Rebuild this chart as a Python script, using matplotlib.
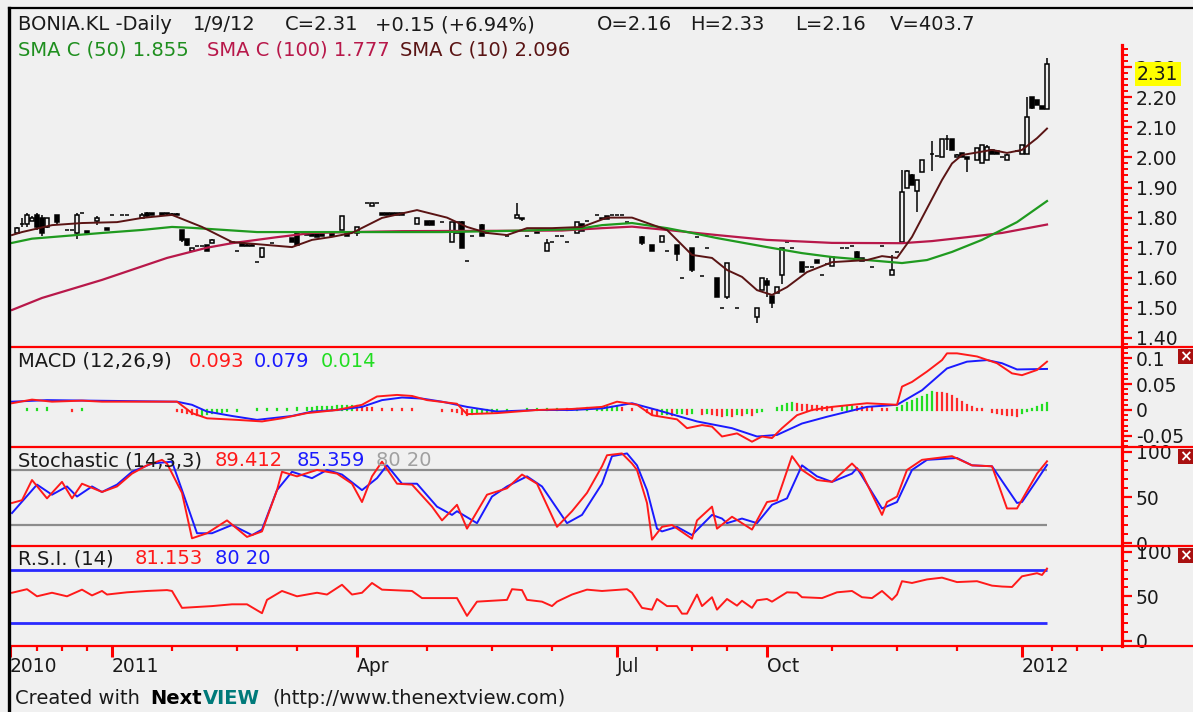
import numpy as np
import matplotlib.pyplot as plt
from matplotlib.lines import Line2D
from matplotlib.patches import Rectangle
from matplotlib.ticker import FixedLocator

plt.rcParams['font.family'] = ['DejaVu Sans']

W, H = 1193, 712
BG = '#f0f0f0'
FS = 14

# ---- daily bars (bar index, open, high, low, close) ----
bar_idx = [1, 2, 3, 4, 5, 6, 7, 9, 11, 12,
           13, 14, 15, 17, 19, 20, 22, 23, 26, 27,
           28, 30, 31, 32, 33, 34, 35, 36, 37, 38,
           39, 40, 44, 45, 46, 47, 48, 49, 50, 52,
           56, 57, 59, 60, 61, 62, 64, 66, 67, 69,
           71, 72, 73, 74, 75, 76, 77, 78, 81, 83,
           84, 86, 88, 89, 90, 91, 92, 94, 95, 99,
           101, 102, 103, 105, 107, 108, 109, 110, 111, 113,
           114, 115, 117, 118, 119, 120, 121, 122, 123, 126,
           128, 130, 131, 133, 134, 136, 137, 138, 139, 141,
           142, 143, 145, 149, 150, 151, 152, 153, 154, 155,
           156, 158, 159, 160, 161, 162, 163, 164, 166, 167,
           168, 169, 170, 172, 174, 176, 177, 178, 179, 180,
           181, 182, 184, 185, 186, 187, 188, 189, 190, 191,
           193, 194, 195, 196, 197, 198, 199, 201, 202, 203,
           204, 205, 206, 207]
bar_open = [1.75, 1.78, 1.78, 1.79, 1.81, 1.80, 1.77, 1.81, 1.76, 1.76,
            1.75, 1.815, 1.755, 1.79, 1.765, 1.81, 1.81, 1.81, 1.80, 1.815,
            1.815, 1.815, 1.815, 1.812, 1.812, 1.76, 1.73, 1.69, 1.705, 1.705,
            1.71, 1.716, 1.72, 1.69, 1.715, 1.71, 1.71, 1.652, 1.67, 1.715,
            1.732, 1.75, 1.752, 1.748, 1.745, 1.745, 1.75, 1.76, 1.745, 1.75,
            1.848, 1.84, 1.848, 1.815, 1.815, 1.815, 1.815, 1.815, 1.78, 1.79,
            1.79, 1.785, 1.72, 1.75, 1.785, 1.655, 1.74, 1.775, 1.75, 1.74,
            1.80, 1.795, 1.74, 1.752, 1.69, 1.72, 1.74, 1.74, 1.72, 1.75,
            1.78, 1.79, 1.81, 1.795, 1.805, 1.81, 1.81, 1.81, 1.785, 1.735,
            1.71, 1.72, 1.69, 1.71, 1.60, 1.70, 1.735, 1.605, 1.70, 1.60,
            1.50, 1.535, 1.50, 1.47, 1.56, 1.59, 1.54, 1.55, 1.61, 1.72,
            1.70, 1.652, 1.636, 1.635, 1.66, 1.61, 1.645, 1.64, 1.70, 1.70,
            1.705, 1.685, 1.665, 1.635, 1.705, 1.61, 1.685, 1.72, 1.90, 1.94,
            1.89, 1.95, 2.01, 2.005, 2.00, 2.06, 2.06, 2.00, 2.015, 2.00,
            1.99, 1.98, 1.99, 2.025, 2.022, 2.00, 1.99, 2.02, 2.01, 2.01,
            2.20, 2.19, 2.17, 2.16]
bar_high = [1.77, 1.80, 1.815, 1.805, 1.815, 1.81, 1.80, 1.81, 1.76, 1.76,
            1.815, 1.815, 1.755, 1.805, 1.767, 1.81, 1.81, 1.81, 1.815, 1.82,
            1.815, 1.815, 1.815, 1.815, 1.815, 1.76, 1.73, 1.70, 1.705, 1.705,
            1.71, 1.728, 1.722, 1.69, 1.715, 1.712, 1.712, 1.652, 1.70, 1.715,
            1.732, 1.752, 1.752, 1.75, 1.745, 1.745, 1.75, 1.805, 1.745, 1.77,
            1.848, 1.85, 1.848, 1.815, 1.815, 1.815, 1.815, 1.815, 1.80, 1.79,
            1.79, 1.785, 1.785, 1.785, 1.79, 1.655, 1.74, 1.78, 1.75, 1.74,
            1.85, 1.80, 1.74, 1.752, 1.73, 1.72, 1.74, 1.74, 1.72, 1.785,
            1.78, 1.79, 1.81, 1.80, 1.805, 1.81, 1.81, 1.81, 1.785, 1.74,
            1.71, 1.74, 1.69, 1.71, 1.60, 1.70, 1.735, 1.605, 1.70, 1.60,
            1.50, 1.65, 1.50, 1.50, 1.60, 1.60, 1.54, 1.57, 1.70, 1.72,
            1.70, 1.652, 1.636, 1.635, 1.66, 1.61, 1.645, 1.67, 1.70, 1.70,
            1.705, 1.69, 1.665, 1.635, 1.705, 1.675, 1.685, 1.958, 1.958, 1.945,
            1.925, 1.99, 2.055, 2.005, 2.06, 2.075, 2.06, 2.01, 2.015, 2.00,
            2.03, 2.04, 2.04, 2.025, 2.022, 2.00, 2.01, 2.02, 2.04, 2.20,
            2.20, 2.19, 2.17, 2.33]
bar_low = [1.75, 1.77, 1.77, 1.79, 1.76, 1.74, 1.765, 1.78, 1.76, 1.76,
           1.73, 1.815, 1.745, 1.775, 1.758, 1.81, 1.81, 1.81, 1.80, 1.80,
           1.81, 1.81, 1.81, 1.81, 1.808, 1.72, 1.705, 1.69, 1.705, 1.705,
           1.69, 1.716, 1.715, 1.69, 1.705, 1.705, 1.705, 1.652, 1.665, 1.715,
           1.72, 1.705, 1.742, 1.738, 1.735, 1.738, 1.738, 1.76, 1.74, 1.74,
           1.848, 1.84, 1.848, 1.808, 1.808, 1.808, 1.808, 1.808, 1.78, 1.775,
           1.775, 1.785, 1.72, 1.75, 1.70, 1.655, 1.74, 1.74, 1.75, 1.74,
           1.80, 1.79, 1.74, 1.748, 1.69, 1.72, 1.74, 1.74, 1.72, 1.75,
           1.755, 1.79, 1.81, 1.795, 1.795, 1.81, 1.81, 1.81, 1.785, 1.71,
           1.69, 1.72, 1.69, 1.655, 1.60, 1.62, 1.735, 1.605, 1.70, 1.535,
           1.50, 1.53, 1.50, 1.45, 1.56, 1.535, 1.50, 1.55, 1.58, 1.72,
           1.70, 1.62, 1.636, 1.635, 1.65, 1.61, 1.645, 1.64, 1.70, 1.70,
           1.705, 1.66, 1.655, 1.635, 1.705, 1.61, 1.685, 1.72, 1.90, 1.91,
           1.82, 1.95, 1.955, 2.005, 2.00, 2.025, 2.025, 2.00, 2.00, 1.95,
           1.99, 1.98, 1.99, 2.01, 2.012, 2.00, 1.99, 2.02, 2.01, 2.01,
           2.16, 2.175, 2.16, 2.16]
bar_close = [1.765, 1.78, 1.81, 1.80, 1.77, 1.75, 1.80, 1.785, 1.76, 1.76,
             1.81, 1.815, 1.748, 1.80, 1.76, 1.81, 1.81, 1.81, 1.81, 1.805,
             1.81, 1.81, 1.812, 1.81, 1.81, 1.725, 1.71, 1.70, 1.705, 1.705,
             1.69, 1.726, 1.715, 1.69, 1.705, 1.705, 1.706, 1.652, 1.70, 1.715,
             1.72, 1.71, 1.742, 1.738, 1.735, 1.738, 1.738, 1.805, 1.74, 1.77,
             1.848, 1.848, 1.848, 1.808, 1.808, 1.808, 1.81, 1.808, 1.80, 1.775,
             1.775, 1.785, 1.785, 1.785, 1.70, 1.655, 1.74, 1.74, 1.75, 1.74,
             1.81, 1.80, 1.74, 1.748, 1.715, 1.72, 1.74, 1.74, 1.72, 1.785,
             1.755, 1.79, 1.81, 1.80, 1.795, 1.81, 1.81, 1.81, 1.785, 1.715,
             1.69, 1.74, 1.69, 1.68, 1.60, 1.625, 1.735, 1.605, 1.70, 1.535,
             1.50, 1.65, 1.50, 1.50, 1.60, 1.575, 1.515, 1.57, 1.70, 1.72,
             1.70, 1.62, 1.636, 1.635, 1.65, 1.61, 1.645, 1.67, 1.70, 1.70,
             1.705, 1.66, 1.655, 1.635, 1.705, 1.625, 1.685, 1.885, 1.955, 1.91,
             1.925, 1.99, 2.012, 2.005, 2.06, 2.06, 2.025, 2.008, 2.00, 1.995,
             2.03, 2.04, 2.035, 2.01, 2.012, 2.00, 2.008, 2.02, 2.04, 2.135,
             2.165, 2.175, 2.16, 2.31]

# ---- moving averages ----
sma100_idx = [0, 6, 18, 31, 39, 44, 53, 60, 68, 78, 110, 118, 124, 131, 141, 151,
              164, 178, 184, 191, 198, 207]
sma100_val = [1.493, 1.533, 1.593, 1.666, 1.70, 1.715, 1.735, 1.749, 1.752, 1.755,
              1.757, 1.765, 1.77, 1.759, 1.742, 1.726, 1.716, 1.715, 1.722, 1.735,
              1.749, 1.777]
sma50_idx = [0, 4, 18, 26, 32, 36, 49, 64, 86, 100, 113, 118, 124, 131, 136, 141,
             151, 158, 164, 171, 178, 183, 188, 194, 201, 207]
sma50_val = [1.716, 1.73, 1.749, 1.759, 1.769, 1.766, 1.752, 1.752, 1.752, 1.756,
             1.762, 1.775, 1.782, 1.765, 1.749, 1.732, 1.702, 1.682, 1.669, 1.659,
             1.649, 1.659, 1.686, 1.726, 1.785, 1.855]
sma10_idx = [0, 2, 8, 14, 21, 26, 32, 38, 44, 51, 56, 60, 64, 68, 74, 81, 87, 91,
             95, 99, 103, 108, 114, 119, 124, 131, 136, 140, 143, 146, 149, 152,
             155, 159, 164, 171, 174, 177, 180, 186, 188, 190, 196, 199, 202, 205, 207]
sma10_val = [1.742, 1.752, 1.775, 1.782, 1.785, 1.799, 1.809, 1.769, 1.719, 1.709,
             1.702, 1.726, 1.736, 1.749, 1.799, 1.825, 1.80, 1.769, 1.749, 1.742,
             1.765, 1.765, 1.769, 1.80, 1.80, 1.759, 1.676, 1.666, 1.626, 1.603,
             1.559, 1.543, 1.569, 1.619, 1.652, 1.659, 1.672, 1.666, 1.736, 1.925,
             1.98, 2.008, 2.025, 2.015, 2.025, 2.064, 2.096]

# ---- MACD (12,26,9) ----
macd_idx = [0, 4, 8, 14, 18, 33, 36, 39, 45, 50, 54, 59, 65, 70, 73, 77, 80, 83,
            89, 91, 97, 105, 112, 118, 121, 125, 128, 133, 135, 138, 140, 142, 145,
            148, 150, 152, 154, 157, 160, 164, 171, 177, 178, 180, 183, 186, 187,
            189, 193, 197, 200, 202, 205, 207]
macd_val = [0.013, 0.020, 0.016, 0.018, 0.016, 0.016, -0.006, -0.016, -0.019, -0.022,
            -0.016, -0.006, 0.0, 0.010, 0.026, 0.029, 0.027, 0.019, 0.012, -0.008,
            -0.006, 0.0, 0.002, 0.006, 0.016, 0.010, -0.010, -0.018, -0.035, -0.029,
            -0.032, -0.051, -0.045, -0.061, -0.051, -0.054, -0.035, -0.010, 0.0, 0.006,
            0.013, 0.010, 0.045, 0.054, 0.074, 0.096, 0.109, 0.109, 0.103, 0.090,
            0.0705, 0.067, 0.077, 0.093]
signal_idx = [0, 7, 33, 36, 39, 44, 49, 56, 60, 65, 70, 74, 78, 82, 86, 91, 97, 105,
              112, 118, 124, 129, 137, 144, 149, 153, 158, 163, 171, 177, 182, 187,
              191, 195, 198, 201, 207]
signal_val = [0.016, 0.019, 0.016, 0.010, -0.003, -0.0115, -0.019, -0.0115, -0.003, 0.0,
              0.006, 0.019, 0.024, 0.022, 0.016, 0.006, -0.003, 0.0, 0.0, 0.003,
              0.013, 0.0, -0.022, -0.035, -0.051, -0.048, -0.026, -0.013, 0.006, 0.010,
              0.038, 0.080, 0.093, 0.096, 0.090, 0.078, 0.079]
hist_idx = [3, 5, 7, 12, 14,
            33, 34, 35, 36, 37, 38, 39, 40,
            41, 42, 43, 45, 47, 49, 51, 53, 55, 57,
            59, 60, 61, 62, 63, 64, 65, 66, 67, 68, 69, 70, 71, 72,
            74, 76, 78, 80, 82, 84, 86, 88,
            89, 90, 91, 92, 93, 94, 95, 96, 97,
            99, 101, 103, 105, 107, 109, 111, 113, 115, 117,
            118, 119, 120, 121, 122, 124, 126,
            127, 128, 129, 130, 131, 132, 133, 134, 135, 136,
            138, 139, 140, 141, 142, 143, 144, 145, 146, 147, 148, 149, 150,
            153, 154, 155, 156, 157,
            158, 159, 160, 161, 162, 163, 164,
            166, 167, 168,
            169, 170, 171, 172, 174, 175,
            177, 178, 179, 180, 181, 182, 183, 184,
            185, 186, 187, 188, 189, 190, 191, 192,
            193, 194, 196, 197, 198, 199, 200, 201,
            202, 203, 204, 205, 206, 207]
hist_val = [0.001, 0.002, 0.003, -0.002, 0.001,
            -0.002, -0.004, -0.006, -0.008, -0.010, -0.009, -0.007, -0.005,
            -0.004, -0.003, -0.002, -0.001, 0.0005, 0.001, 0.0015, 0.002, 0.0025, 0.003,
            0.0035, 0.004, 0.005, 0.0055, 0.006, 0.0065, 0.007, 0.0075, 0.008, 0.0085,
            0.007, 0.006, 0.004, 0.003,
            0.0025, 0.002, 0.0015, 0.001, 0.0005, -0.0005, -0.001, -0.002,
            -0.004, -0.007, -0.009, -0.007, -0.006, -0.005, -0.004, -0.003, -0.002,
            -0.001, 0.0, 0.001, 0.0015, 0.002, 0.0025, 0.002, 0.0025, 0.003, 0.004,
            0.0045, 0.005, 0.0055, 0.006, 0.004, 0.002, 0.0,
            -0.004, -0.007, -0.009, -0.008, -0.007, -0.009, -0.006, -0.005, -0.008, -0.006,
            -0.007, -0.005, -0.008, -0.010, -0.012, -0.009, -0.011, -0.008, -0.010, -0.006,
            -0.009, -0.004, -0.002,
            0.004, 0.008, 0.012, 0.014, 0.012,
            0.010, 0.009, 0.008, 0.007, 0.006, 0.005, 0.004,
            0.006, 0.007, 0.008,
            0.006, 0.005, 0.004, 0.003, 0.002, 0.001,
            0.003, 0.008, 0.013, 0.017, 0.021, 0.025, 0.029, 0.034,
            0.033, 0.032, 0.030, 0.027, 0.022, 0.016, 0.010, 0.005,
            0.002, 0.001, -0.003, -0.005, -0.008, -0.010, -0.010, -0.011,
            -0.006, -0.002, 0.002, 0.006, 0.010, 0.014]

# ---- Stochastic (14,3,3) ----
k_idx = [0, 2, 4, 7, 10, 12, 14, 18, 21, 24, 27, 30, 31, 34, 36, 39, 43, 47, 50,
         53, 54, 57, 61, 65, 68, 70, 72, 74, 77, 80, 84, 86, 89, 91, 95, 99, 102,
         105, 109, 112, 115, 118, 119, 122, 124, 125, 127, 128, 130, 132, 136, 137,
         140, 141, 144, 148, 151, 153, 156, 158, 161, 164, 168, 170, 174, 175, 177,
         179, 182, 188, 192, 196, 199, 201, 205, 207]
k_val = [44, 47, 69, 49, 67, 49, 65, 56, 62, 76, 85, 91, 87, 55, 5.5, 11, 25, 7, 13,
         58, 78, 73, 80, 76, 65, 45, 73, 89, 65, 64, 40, 25, 42, 16, 53, 60, 75,
         65, 18, 35, 55, 84, 96, 98, 87, 80, 44, 4, 18, 20, 5, 25,
         40, 16, 29, 15, 45, 47, 95, 80, 69, 67, 87, 76, 31, 45, 51,
         80, 91, 95, 85, 84, 38, 38, 76, 89.4]
d_idx = [0, 5, 8, 11, 13, 16, 18, 21, 24, 28, 32, 34, 37, 40, 44, 48, 50, 53, 56,
         60, 63, 66, 70, 73, 75, 78, 81, 85, 88, 89, 93, 96, 99, 103, 106, 111, 114,
         118, 120, 123, 125, 127, 129, 130, 133, 136, 140, 142, 143, 146, 149, 152,
         155, 158, 161, 164, 168, 169, 174, 177, 180, 183, 189, 192, 196, 201, 202,
         205, 207]
d_val = [33, 64, 53, 62, 51, 62, 56, 64, 78, 87, 89, 58, 11, 11, 20, 9, 15, 58, 78,
         71, 80, 75, 58, 71, 85, 65, 65, 40, 31, 35, 22, 51, 62, 73, 62, 22, 31,
         65, 95, 98, 85, 58, 16, 13, 18, 9, 31, 27, 22, 27, 22, 42,
         49, 85, 73, 67, 76, 82, 38, 45, 80, 91, 93, 85, 84, 44, 45,
         69, 85.4]

# ---- RSI (14) ----
rsi_idx = [0, 3, 5, 8, 11, 14, 16, 18, 19, 23, 27, 31, 32, 34, 40, 44, 47, 50, 51,
           54, 57, 61, 63, 66, 68, 70, 72, 74, 80, 82, 89, 91, 93, 99, 100, 102, 103,
           106, 108, 109, 112, 115, 118, 123, 124, 126, 128, 129, 131, 133, 134, 135,
           137, 138, 140, 141, 143, 145, 146, 148, 149, 151, 152, 155, 157, 158, 162,
           165, 168, 170, 172, 174, 176, 177, 178, 180, 183, 186, 189, 193, 196, 198,
           200, 202, 205, 206, 207]
rsi_val = [54, 58, 50, 54, 50, 57.5, 51, 56, 52, 54.5, 56, 57, 56, 37, 39, 41, 41, 31, 46,
           56, 50, 54, 52, 63, 52, 54, 65, 57.5, 56, 48, 48, 28, 44, 46, 58, 57, 46,
           44, 39, 44, 52, 57.5, 56, 58, 54, 37, 35, 47, 39, 39, 30.5, 30.5,
           52, 39, 49, 35, 47, 39.5, 45, 37, 45.5, 47, 44, 54.5, 54, 49, 48,
           54.5, 56, 49, 48, 56, 46, 52, 67, 65, 69, 71, 66, 67, 62, 61,
           60.5, 72.5, 76, 74, 81.2]

# ---- date axis (bar positions) ----
xmaj_pos = [-0.4, 20, 69, 121, 151, 202]
xmaj_lab = ['2010', '2011', 'Apr', 'Jul', 'Oct', '2012']
xmin_pos = [5, 10, 15, 32, 45, 57, 83, 96, 108, 129, 136, 143, 164, 177, 189,
            208, 213, 218]

fig = plt.figure(figsize=(W / 100, H / 100), dpi=100, facecolor=BG)
X0, X1 = 10, 1122


def panel(top, bottom, ylim):
    ax = fig.add_axes([X0 / W, 1 - bottom / H, (X1 - X0) / W, (bottom - top) / H],
                      facecolor=BG)
    ax.set_xlim(-0.4, 222)
    ax.set_ylim(*ylim)
    for s in ['left', 'top', 'bottom']:
        ax.spines[s].set_visible(False)
    ax.spines['right'].set_color('red')
    ax.spines['right'].set_linewidth(2.3)
    ax.yaxis.tick_right()
    ax.tick_params(axis='y', which='major', color='red', length=7, width=1.6,
                   labelsize=FS - 0.5, labelcolor='#1a1a1a', pad=3)
    ax.tick_params(axis='y', which='minor', color='red', length=4, width=1.4)
    ax.tick_params(axis='x', which='both', bottom=False, labelbottom=False)
    return ax


def ftext(x, y, s, **kw):
    kw.setdefault('fontsize', FS)
    kw.setdefault('va', 'center')
    fig.text(x / W, 1 - y / H, s, **kw)


# price panel
ax_p = panel(10, 347, (1.370, 2.490))
ax_p.spines['right'].set_bounds(1.370, 2.373)
ax_p.yaxis.set_major_locator(FixedLocator(np.round(np.arange(1.40, 2.31, 0.1), 2)))
ax_p.yaxis.set_minor_locator(FixedLocator(np.round(np.arange(1.38, 2.37, 0.02), 2)))
ax_p.yaxis.set_major_formatter(lambda v, p: '%.2f' % v)

opens = np.array(bar_open)
closes = np.array(bar_close)
fill = np.where(closes < opens, 'black', BG)
ax_p.vlines(bar_idx, bar_low, bar_high, color='black', lw=1.1, zorder=2)
ax_p.bar(bar_idx, np.abs(closes - opens), bottom=np.minimum(opens, closes), width=0.85,
         color=fill, edgecolor='black', linewidth=1.1, zorder=3)
ax_p.plot(sma100_idx, sma100_val, color='#b8184a', lw=1.6, zorder=4)
ax_p.plot(sma50_idx, sma50_val, color='#1f9a1f', lw=1.6, zorder=4)
ax_p.plot(sma10_idx, sma10_val, color='#5a1414', lw=1.4, zorder=5)
ax_p.annotate('2.31', xy=(1, 2.31), xycoords=('axes fraction', 'data'),
              xytext=(15, -10), textcoords='offset pixels', va='center', ha='left',
              fontsize=FS - 0.5, color='#1a1a1a',
              bbox=dict(boxstyle='square,pad=0.12', fc='#ffff00', ec='none'))

# MACD panel
ax_m = panel(347, 447, (-0.0712, 0.1212))
ax_m.yaxis.set_major_locator(FixedLocator([-0.05, 0, 0.05, 0.1]))
ax_m.yaxis.set_minor_locator(FixedLocator(np.round(np.arange(-0.07, 0.121, 0.01), 2)))
ax_m.yaxis.set_major_formatter(lambda v, p: '%g' % v)
hv = np.array(hist_val)
rising = np.concatenate([[True], hv[1:] > hv[:-1]])
ax_m.vlines(hist_idx, 0, hv, colors=np.where(rising, '#22dd22', '#ff2a2a'), lw=1.6,
            capstyle='projecting', zorder=2)
ax_m.plot(signal_idx, signal_val, color='#1a1aff', lw=1.4, zorder=3)
ax_m.plot(macd_idx, macd_val, color='#ff1a1a', lw=1.4, zorder=4)

# Stochastic panel
ax_s = panel(447, 546, (-2.9, 105.0))
ax_s.yaxis.set_major_locator(FixedLocator([0, 50, 100]))
ax_s.yaxis.set_minor_locator(FixedLocator(range(0, 101, 10)))
ax_s.hlines([80, 20], -0.4, 207, color='#8c8c8c', lw=1.6, zorder=2)
ax_s.plot(d_idx, d_val, color='#1a1aff', lw=1.4, zorder=4)
ax_s.plot(k_idx, k_val, color='#ff1a1a', lw=1.4, zorder=4)

# RSI panel
ax_r = panel(546, 646, (-5.9, 106.6))
ax_r.yaxis.set_major_locator(FixedLocator([0, 50, 100]))
ax_r.yaxis.set_minor_locator(FixedLocator(range(0, 101, 10)))
ax_r.hlines([80, 20], -0.4, 207, color='#2a2aff', lw=2, zorder=2)
ax_r.plot(rsi_idx, rsi_val, color='#ff1a1a', lw=1.4, zorder=4)
ax_r.tick_params(axis='x', which='both', bottom=True, labelbottom=True, color='red',
                 direction='out')
ax_r.tick_params(axis='x', which='major', length=8, width=2.2, labelsize=FS - 0.5,
                 labelcolor='#1a1a1a', pad=0)
ax_r.tick_params(axis='x', which='minor', length=3.5, width=1.6)
ax_r.xaxis.set_major_locator(FixedLocator(xmaj_pos))
ax_r.xaxis.set_minor_locator(FixedLocator(xmin_pos))
ax_r.set_xticklabels(xmaj_lab)
for lab in ax_r.get_xticklabels():
    lab.set_ha('left')

# panel separators and outer frame
for y in [347, 447, 546, 646]:
    fig.add_artist(Line2D([X0 / W, 1], [1 - y / H] * 2, color='red', lw=1.6))
fig.add_artist(Line2D([9 / W, 9 / W], [0, 1 - 8 / H], color='black', lw=2.4))
fig.add_artist(Line2D([9 / W, 1], [1 - 8 / H] * 2, color='black', lw=1.6))

# small close buttons
for yt in [349, 449, 548]:
    fig.add_artist(Rectangle((1178 / W, 1 - (yt + 15) / H), 15 / W, 15 / H,
                             transform=fig.transFigure, fc='#a81010', ec='none'))
    ftext(1185.5, yt + 7.5, '×', color='white', fontsize=11, ha='center',
          fontweight='bold')

# header texts
dark = '#1a1a1a'
ftext(18, 25, 'BONIA.KL -Daily', color=dark)
ftext(193, 25, '1/9/12', color=dark)
ftext(285, 25, 'C=2.31', color=dark)
ftext(375, 25, '+0.15 (+6.94%)', color=dark)
ftext(597, 25, 'O=2.16', color=dark)
ftext(690, 25, 'H=2.33', color=dark)
ftext(795, 25, 'L=2.16', color=dark)
ftext(890, 25, 'V=403.7', color=dark)
ftext(18, 50, 'SMA C (50) 1.855', color='#1f8f1f')
ftext(207, 50, 'SMA C (100) 1.777', color='#b8184a')
ftext(400, 50, 'SMA C (10) 2.096', color='#5a1414')

ftext(18, 361, 'MACD (12,26,9)', color=dark)
ftext(189, 361, '0.093', color='#ff1a1a')
ftext(254, 361, '0.079', color='#1a1aff')
ftext(321, 361, '0.014', color='#22dd22')

ftext(18, 461, 'Stochastic (14,3,3)', color=dark, zorder=0)
ftext(215, 461, '89.412', color='#ff1a1a', zorder=0)
ftext(297, 461, '85.359', color='#1a1aff', zorder=0)
ftext(376, 461, '80 20', color='#a0a0a0', zorder=0)

ftext(18, 559, 'R.S.I. (14)', color=dark)
ftext(135, 559, '81.153', color='#ff1a1a')
ftext(215, 559, '80 20', color='#1a1aff')

# footer
ftext(15, 699, 'Created with', color=dark)
ftext(150, 699, 'Next', color='black', fontweight='bold')
ftext(203, 699, 'VIEW', color='#007a7a', fontweight='bold')
ftext(272, 699, '(http://www.thenextview.com)', color=dark)

fig.savefig('out.png', dpi=100, facecolor=BG)
